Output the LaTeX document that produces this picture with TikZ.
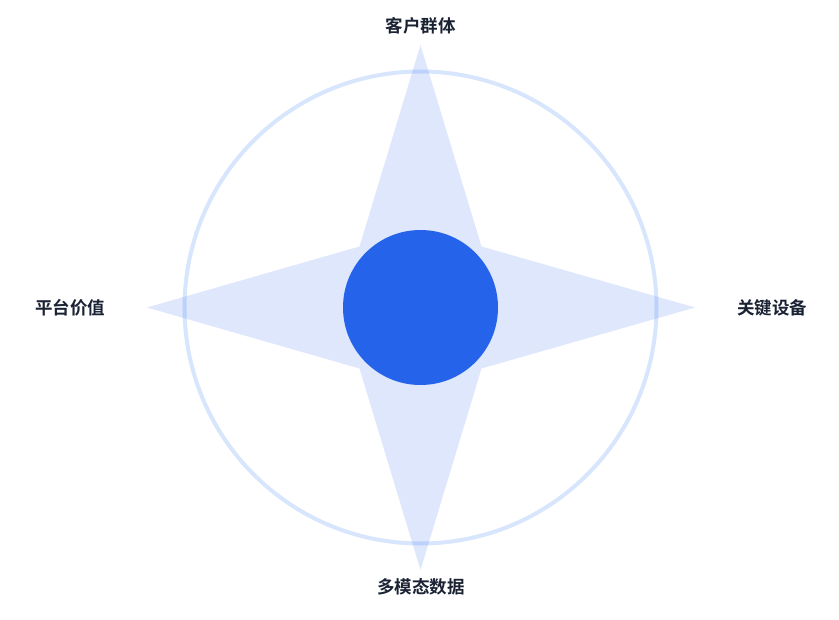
\documentclass[tikz,border=0pt]{standalone}
\usepackage{fontspec}
\newfontfamily\cjk{Noto Sans CJK SC}[BoldFont={* Bold}]
\definecolor{core}{HTML}{2563EB}
\definecolor{ring}{HTML}{3B82F6}
\definecolor{labeltext}{HTML}{1A2233}
\begin{document}
\begin{tikzpicture}[x=1pt,y=-1pt,
  lbl/.style={font=\cjk\bfseries\fontsize{17.5}{20}\selectfont, text=labeltext, inner sep=0pt, anchor=center}]
\useasboundingbox (0,0) rectangle (839,620);
\fill[white] (0,0) rectangle (839,620);
\coordinate (c) at (420.5,307.5);
% star
\fill[core, fill opacity=0.15]
  (420.5,45) -- (481.5,246.5) -- (695,307.5) -- (481.5,368.5) -- (420.5,570)
  -- (359.5,368.5) -- (147,307.5) -- (359.5,246.5) -- cycle;
% outer ring
\draw[ring, draw opacity=0.2, line width=4pt] (c) circle[radius=236];
% core
\fill[core] (c) circle[radius=77.5];
% labels
\node[lbl] (top) at (420.5,26) {客户群体};
\node[lbl] (left) at (70,308) {平台价值};
\node[lbl] (right) at (772,308) {关键设备};
\node[lbl] (bottom) at (421,587) {多模态数据};
\end{tikzpicture}
\end{document}
